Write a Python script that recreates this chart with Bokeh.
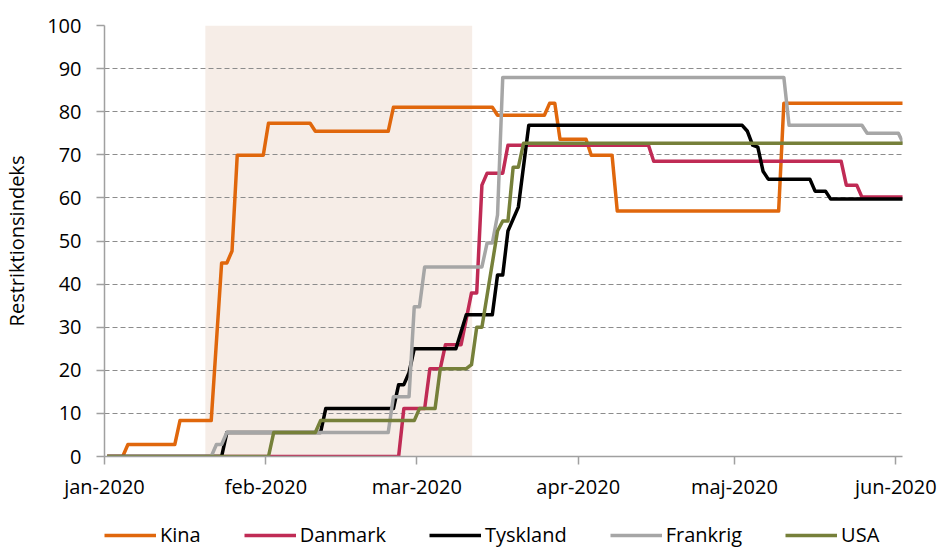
import pandas as pd
from bokeh.plotting import figure
from bokeh.layouts import column
from bokeh.models import (Range1d, FixedTicker, BoxAnnotation, Legend, LegendItem)
from bokeh.embed import file_html
from bokeh.resources import INLINE

# ---------------- data (vertices of the step-like index series) ----------------
kina_dates = ["2020-01-01", "2020-01-04", "2020-01-05", "2020-01-14", "2020-01-15",
              "2020-01-21", "2020-01-23", "2020-01-24", "2020-01-25", "2020-01-26",
              "2020-01-31", "2020-02-01", "2020-02-09", "2020-02-10", "2020-02-24",
              "2020-02-25", "2020-03-15", "2020-03-16", "2020-03-25", "2020-03-26",
              "2020-03-27", "2020-03-28", "2020-04-02", "2020-04-03", "2020-04-07",
              "2020-04-08", "2020-05-09", "2020-05-10", "2020-06-02"]
kina_values = [0, 0, 2.78, 2.78, 8.33,
               8.33, 44.91, 44.91, 47.69, 69.91,
               69.91, 77.31, 77.31, 75.46, 75.46,
               81.02, 81.02, 79.17, 79.17, 81.94,
               81.94, 73.61, 73.61, 69.91, 69.91,
               56.94, 56.94, 81.94, 81.94]

danmark_dates = ["2020-01-01", "2020-02-26", "2020-02-27", "2020-03-02", "2020-03-03",
                 "2020-03-05", "2020-03-06", "2020-03-09", "2020-03-11", "2020-03-12",
                 "2020-03-13", "2020-03-14", "2020-03-17", "2020-03-18", "2020-04-14",
                 "2020-04-15", "2020-05-21", "2020-05-22", "2020-05-24", "2020-05-25",
                 "2020-06-02"]
danmark_values = [0, 0, 11.11, 11.11, 20.37,
                  20.37, 25.93, 25.93, 37.96, 37.96,
                  62.96, 65.74, 65.74, 72.22, 72.22,
                  68.52, 68.52, 62.96, 62.96, 60.19,
                  60.19]

tyskland_dates = ["2020-01-01", "2020-01-23", "2020-01-24", "2020-02-11", "2020-02-12",
                  "2020-02-25", "2020-02-26", "2020-02-27", "2020-02-28", "2020-02-29",
                  "2020-03-08", "2020-03-10", "2020-03-15", "2020-03-16", "2020-03-17",
                  "2020-03-18", "2020-03-20", "2020-03-22", "2020-05-02", "2020-05-03",
                  "2020-05-04", "2020-05-05", "2020-05-06", "2020-05-07", "2020-05-15",
                  "2020-05-16", "2020-05-18", "2020-05-19", "2020-06-02"]
tyskland_values = [0, 0, 5.56, 5.56, 11.11,
                   11.11, 16.67, 16.67, 19.44, 25.0,
                   25.0, 32.87, 32.87, 42.13, 42.13,
                   52.31, 57.87, 76.85, 76.85, 75.46,
                   72.22, 71.76, 66.2, 64.35, 64.35,
                   61.57, 61.57, 59.72, 59.72]

frankrig_dates = ["2020-01-01", "2020-01-21", "2020-01-22", "2020-01-23", "2020-01-24",
                  "2020-02-24", "2020-02-25", "2020-02-28", "2020-02-29", "2020-03-01",
                  "2020-03-02", "2020-03-13", "2020-03-14", "2020-03-15", "2020-03-16",
                  "2020-03-17", "2020-05-10", "2020-05-11", "2020-05-25", "2020-05-26",
                  "2020-06-01", "2020-06-02"]
frankrig_values = [0, 0, 2.78, 2.78, 5.56,
                   5.56, 13.89, 13.89, 34.72, 34.72,
                   43.98, 43.98, 49.54, 49.54, 56.02,
                   87.96, 87.96, 76.85, 76.85, 75.0,
                   75.0, 72.5]

usa_dates = ["2020-01-01", "2020-02-01", "2020-02-02", "2020-02-10", "2020-02-11",
             "2020-02-29", "2020-03-01", "2020-03-04", "2020-03-05", "2020-03-10",
             "2020-03-11", "2020-03-12", "2020-03-13", "2020-03-16", "2020-03-17",
             "2020-03-18", "2020-03-19", "2020-03-20", "2020-03-21", "2020-06-02"]
usa_values = [0, 0, 5.56, 5.56, 8.33,
              8.33, 11.11, 11.11, 20.37, 20.37,
              21.3, 30.0, 30.0, 52.31, 54.63,
              54.63, 67.13, 67.13, 72.69, 72.69]

series_names = ["Kina", "Danmark", "Tyskland", "Frankrig", "USA"]
series_colors = ["#e0670c", "#c02b55", "#000000", "#a6a6a6", "#76803a"]

shade_start = "2020-01-20 09:00"
shade_end = "2020-03-11 15:00"

month_ticks = ["2020-01-01", "2020-02-01", "2020-03-01", "2020-04-01", "2020-05-01", "2020-06-01"]
month_labels = ["jan-2020", "feb-2020", "mar-2020", "apr-2020", "maj-2020", "jun-2020"]
y_ticks = list(range(0, 101, 10))

x_start = "2020-01-01 00:00"
x_end = "2020-06-02 07:00"

# ---------------- figure ----------------
FONT = "Open Sans"


def ms(s):
    return pd.Timestamp(s).value / 1e6


p = figure(width=944, height=505, output_backend="svg", toolbar_location=None,
           x_axis_type="datetime",
           x_range=Range1d(ms(x_start), ms(x_end)), y_range=Range1d(0, 100),
           min_border_left=101, min_border_right=42, min_border_top=25, min_border_bottom=49)
p.outline_line_color = None
p.background_fill_color = "white"
p.border_fill_color = "white"

shade = BoxAnnotation(left=ms(shade_start), right=ms(shade_end),
                      fill_color="#f6ede7", fill_alpha=1.0, line_color=None, level="image")
p.add_layout(shade)

p.xgrid.grid_line_color = None
p.ygrid.grid_line_color = "#8c8c8c"
p.ygrid.grid_line_dash = "5 3"
p.ygrid.grid_line_width = 1.2
p.ygrid.ticker = FixedTicker(ticks=y_ticks[1:])

# axes
p.xaxis.ticker = FixedTicker(ticks=[ms(t) for t in month_ticks])
p.xaxis.major_label_overrides = {ms(t): lab for t, lab in zip(month_ticks, month_labels)}
p.yaxis.ticker = FixedTicker(ticks=y_ticks)
for ax in (p.xaxis[0], p.yaxis[0]):
    ax.axis_line_color = "#a0a0a0"
    ax.axis_line_width = 1.5
    ax.major_tick_line_color = "#a0a0a0"
    ax.major_tick_line_width = 1.5
    ax.major_tick_in = 0
    ax.major_tick_out = 8
    ax.minor_tick_line_color = None
    ax.major_label_text_font = FONT
    ax.major_label_text_font_size = "20px"
    ax.major_label_text_color = "#000000"
p.xaxis.major_label_standoff = 8
p.yaxis.major_label_standoff = 15
p.yaxis.axis_label = "Restriktionsindeks"
p.yaxis.axis_label_text_font = FONT
p.yaxis.axis_label_text_font_size = "20px"
p.yaxis.axis_label_text_font_style = "normal"
p.yaxis.axis_label_text_color = "#000000"
p.yaxis.axis_label_standoff = 14

all_dates = [kina_dates, danmark_dates, tyskland_dates, frankrig_dates, usa_dates]
all_values = [kina_values, danmark_values, tyskland_values, frankrig_values, usa_values]

for name, color, d, v in zip(series_names, series_colors, all_dates, all_values):
    # points sit in the middle of their day, as on a date axis
    xs = pd.to_datetime(d) + pd.Timedelta(hours=12)
    p.line(xs, v, line_color=color, line_width=3.5, line_join="round")

# ---------------- legend strip below the chart ----------------
leg = figure(width=944, height=44, output_backend="svg", toolbar_location=None,
             x_range=Range1d(0, 1), y_range=Range1d(0, 1),
             x_axis_location=None, y_axis_location=None, min_border=0)
leg.outline_line_color = None
leg.grid.visible = False
nan = float("nan")
leg_renderers = [leg.line(x=[nan, nan], y=[nan, nan], line_color=c, line_width=3.5) for c in series_colors]
legend = Legend(items=[LegendItem(label=n, renderers=[r]) for n, r in zip(series_names, leg_renderers)],
                orientation="horizontal", location=(0, 1),
                glyph_width=52, glyph_height=20, label_standoff=4, spacing=43,
                padding=0, margin=0, border_line_color=None, background_fill_alpha=0,
                label_text_font=FONT, label_text_font_size="20px", label_text_color="#000000",
                label_height=20)
leg.add_layout(legend, "center")

open("out.html", "w").write(file_html(column(p, leg, spacing=0), INLINE))
